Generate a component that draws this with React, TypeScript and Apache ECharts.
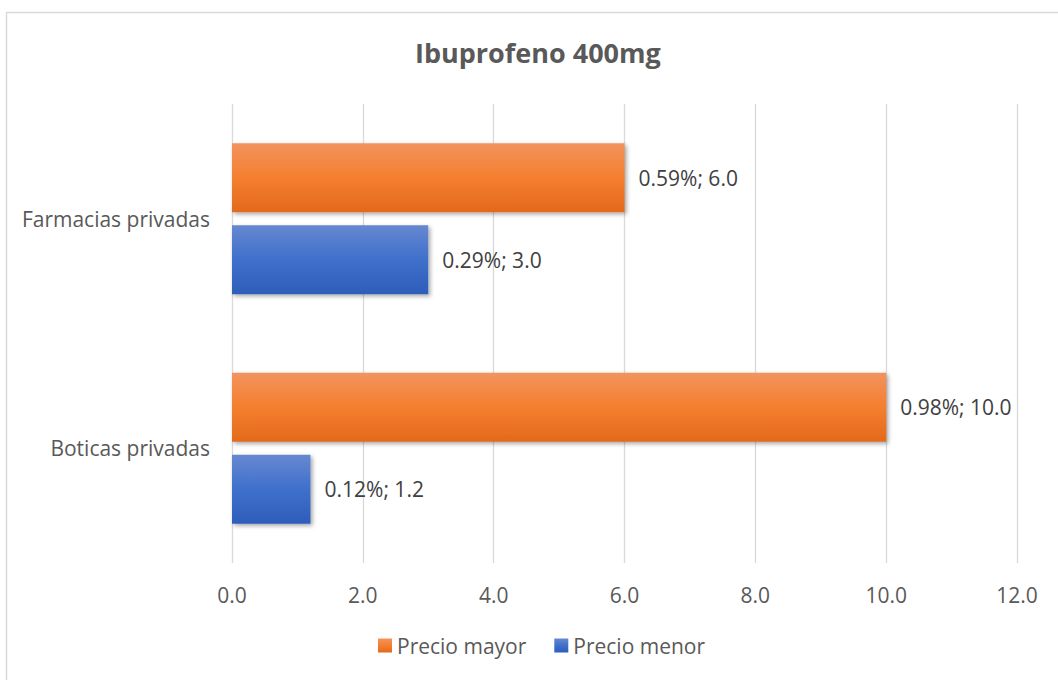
import React, { useEffect, useRef } from "react";
import * as echarts from "echarts";

const categories = ["Boticas privadas", "Farmacias privadas"];
const seriesNames = ["Precio mayor", "Precio menor"];
const mayorValues = [10.0, 6.0];
const mayorPct = ["0.98%", "0.59%"];
const menorValues = [1.2, 3.0];
const menorPct = ["0.12%", "0.29%"];
const xTicks = { min: 0, max: 12, interval: 2 };

const FONT = "'Open Sans', sans-serif";
const FS = 21;

export default function App() {
  const ref = useRef<HTMLDivElement>(null);
  useEffect(() => {
    document.body.style.margin = "0";
    const chart = echarts.init(ref.current!, null, { renderer: "svg" });
    const orange = new echarts.graphic.LinearGradient(0, 0, 0, 1, [
      { offset: 0, color: "#F2935E" },
      { offset: 0.5, color: "#F47F2F" },
      { offset: 1, color: "#E3691B" },
    ]);
    const blue = new echarts.graphic.LinearGradient(0, 0, 0, 1, [
      { offset: 0, color: "#6688D0" },
      { offset: 0.5, color: "#3F70CC" },
      { offset: 1, color: "#2D5DB9" },
    ]);
    const shadow = {
      shadowBlur: 4,
      shadowOffsetX: 2,
      shadowOffsetY: 2,
      shadowColor: "rgba(0,0,0,0.35)",
    };
    const label = (pcts: string[]) => ({
      show: true,
      position: "right" as const,
      distance: 14,
      fontFamily: FONT,
      fontSize: FS,
      color: "#404040",
      formatter: (p: any) => `${pcts[p.dataIndex]}; ${Number(p.value).toFixed(1)}`,
    });
    chart.setOption({
      animation: false,
      backgroundColor: "#fff",
      title: {
        text: "Ibuprofeno 400mg",
        left: 410,
        top: 34,
        textStyle: { fontFamily: FONT, fontSize: 27, fontWeight: "bold", color: "#595959" },
      },
      graphic: [
        {
          type: "rect",
          shape: { x: 6.5, y: 12.5, width: 1100, height: 700 },
          style: { fill: "none", stroke: "#D9D9D9", lineWidth: 1.5 },
          silent: true,
          z: -10,
        },
      ],
      legend: {
        bottom: 19,
        left: 373,
        itemWidth: 14,
        itemHeight: 14,
        itemGap: 28,
        itemStyle: { borderWidth: 0 },
        icon: "rect",
        textStyle: { fontFamily: FONT, fontSize: FS, color: "#595959" },
        data: seriesNames,
      },
      grid: { left: 232, right: 41, top: 104, bottom: 117 },
      xAxis: {
        type: "value",
        min: xTicks.min,
        max: xTicks.max,
        interval: xTicks.interval,
        axisLine: { show: false },
        axisTick: { show: false },
        splitLine: { lineStyle: { color: "#D9D9D9", width: 1.3 } },
        axisLabel: {
          fontFamily: FONT,
          fontSize: FS,
          color: "#595959",
          margin: 21,
          formatter: (v: number) => v.toFixed(1),
        },
      },
      yAxis: {
        type: "category",
        data: categories,
        axisLine: { show: false },
        axisTick: { show: false },
        axisLabel: { fontFamily: FONT, fontSize: FS, color: "#595959", margin: 22 },
      },
      series: [
        {
          name: seriesNames[0],
          type: "bar",
          data: mayorValues,
          barWidth: "30%",
          barGap: "19%",
          itemStyle: { color: orange, ...shadow },
          label: label(mayorPct),
        },
        {
          name: seriesNames[1],
          type: "bar",
          data: menorValues,
          barWidth: "30%",
          barGap: "19%",
          itemStyle: { color: blue, ...shadow },
          label: label(menorPct),
        },
      ],
    });
    return () => chart.dispose();
  }, []);
  return <div ref={ref} style={{ width: 1058, height: 680 }} />;
}
